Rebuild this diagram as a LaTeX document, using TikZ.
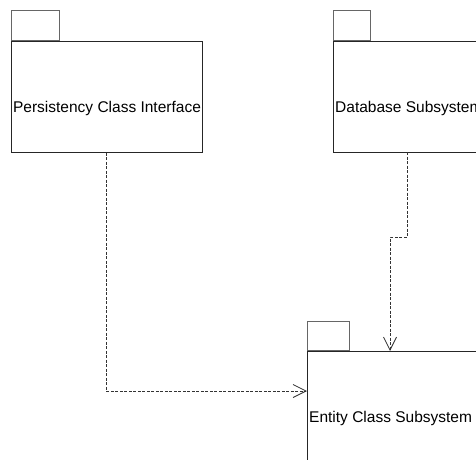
\documentclass[tikz,border=0pt]{standalone}
\usepackage{fontspec}
\setmainfont{Liberation Sans}
\usetikzlibrary{arrows.meta}
\begin{document}
\begin{tikzpicture}[x=1pt,y=-1pt,
  body/.style={draw=black!85, line width=0.8pt, inner sep=0pt, anchor=north west},
  tabbox/.style={draw=black!60, line width=0.8pt, inner sep=0pt, anchor=south west},
  label/.style={font=\fontsize{15.5}{17}\selectfont, inner sep=0pt, anchor=base},
  dep/.style={draw=black!80, line width=0.7pt, dash pattern=on 3pt off 1.5pt,
    -{Straight Barb[length=13pt,width=13pt,line width=0.8pt]}}]
\useasboundingbox (0,0) rectangle (476,459);
\clip (0,0) rectangle (476,459);
% Persistency Class Interface
\node[body, minimum width=191pt, minimum height=111pt] (pci) at (11,41) {};
\node[tabbox, minimum width=48pt, minimum height=30pt] (pcitab) at (pci.north west) {};
\node[label] (pcitext) at (107,112) {Persistency Class Interface};
% Database Subsystem
\node[body, minimum width=160pt, minimum height=111pt] (dbs) at (333,41) {};
\node[tabbox, minimum width=37pt, minimum height=30pt] (dbstab) at (dbs.north west) {};
\node[label, anchor=base west] (dbstext) at (335,112) {Database Subsystem};
% Entity Class Subsystem
\node[body, minimum width=172pt, minimum height=130pt] (ecs) at (307,351) {};
\node[tabbox, minimum width=42pt, minimum height=29pt] (ecstab) at (ecs.north west) {};
\node[label, anchor=base west] (ecstext) at (309,422) {Entity Class Subsystem};
% connectors
\coordinate (ecsin) at (307,391);
\coordinate (ecstop) at (390,351);
\draw[dep] (pci.south -| 106,0) |- (ecsin);
\draw[dep] (407,152) -- (407,237) -- (390,237) -- (ecstop);
\end{tikzpicture}
\end{document}
